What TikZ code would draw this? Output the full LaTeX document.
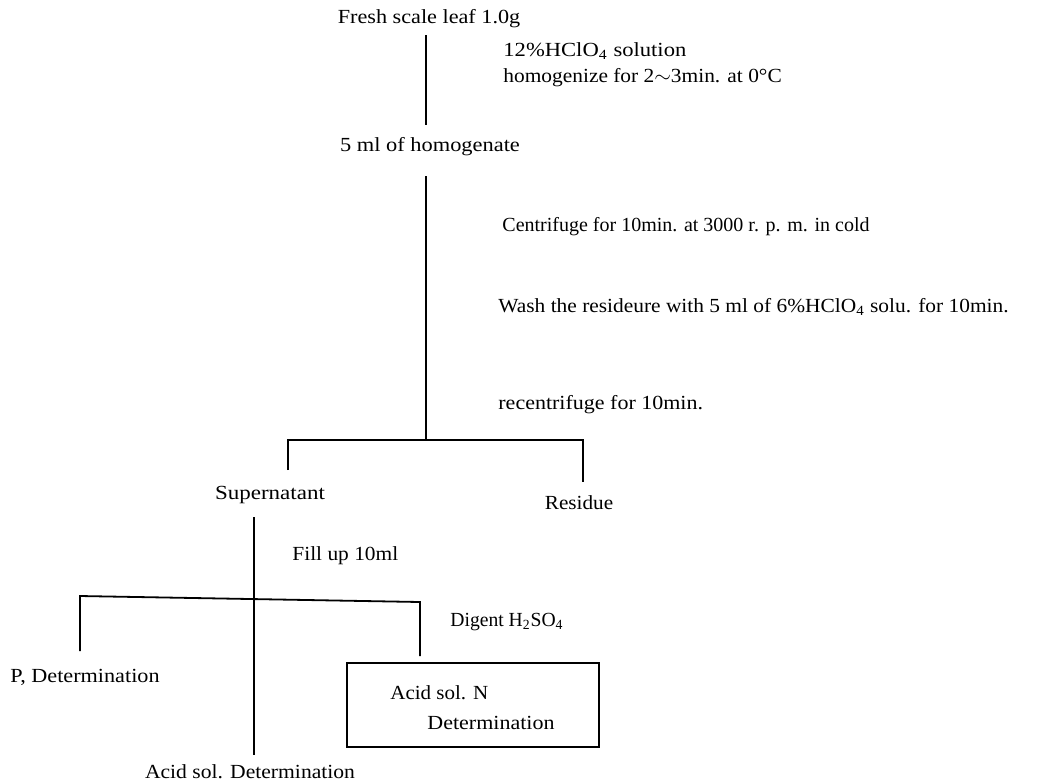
\documentclass[tikz,border=0pt]{standalone}
\usepackage{fontspec}
\usepackage{graphicx}
\setmainfont{Liberation Serif}
\newcommand{\hsc}[2]{\scalebox{#1}[1]{#2}}
\begin{document}
\begin{tikzpicture}[x=0.5pt,y=-0.5pt,
  lbl/.style={inner sep=0pt,font=\fontsize{10}{12}\selectfont},
  lblw/.style={lbl,anchor=west},
  flow/.style={line width=0.9pt}]
\useasboundingbox (0,0) rectangle (1047,782);
% texts
\node[lbl] (fresh) at (429,19) {\hsc{1.11}{Fresh scale leaf 1.0g}};
\node[lblw] (hclo) at (503,51) {\hsc{1.13}{12\%HClO\textsubscript{4} solution}};
\node[lblw] (homog) at (503,78) {\hsc{1.07}{homogenize for 2$\sim$3min. at 0°C}};
\node[lbl] (hom5) at (430,147) {\hsc{1.12}{5 ml of homogenate}};
\node[lblw] (cent) at (502,227) {\hsc{1.0}{Centrifuge for 10min. at 3000 r. p. m. in cold}};
\node[lblw] (wash) at (498,307) {\hsc{1.07}{Wash the resideure with 5 ml of 6\%HClO\textsubscript{4} solu. for 10min.}};
\node[lblw] (recent) at (498,405) {\hsc{1.10}{recentrifuge for 10min.}};
\node[lbl] (super) at (270,495) {\hsc{1.15}{Supernatant}};
\node[lbl] (resid) at (579,503) {\hsc{1.06}{Residue}};
\node[lblw] (fill) at (292,556) {\hsc{1.07}{Fill up 10ml}};
\node[lblw] (digent) at (450,622) {\hsc{0.98}{Digent H\textsubscript{2}SO\textsubscript{4}}};
\node[lblw] (pdet) at (10,677) {\hsc{1.11}{P, Determination}};
\node[draw,flow,minimum width=126pt,minimum height=42pt,inner sep=0pt] (box) at (473,705) {};
\node[lblw] (acidn) at (390,693) {\hsc{1.05}{Acid sol. N}};
\node[lblw] (ndet) at (427,723) {\hsc{1.10}{Determination}};
\node[lbl] (acid) at (250,772) {\hsc{1.08}{Acid sol. Determination}};
% coordinates
\coordinate (a1) at (426,35);
\coordinate (a2) at (426,125);
\coordinate (b1) at (426,176);
\coordinate (b2) at (426,440);
\coordinate (bl) at (288,440);
\coordinate (br) at (583,440);
\coordinate (blb) at (288,470);
\coordinate (brb) at (583,482);
\coordinate (c1) at (254,517);
\coordinate (c2) at (254,755);
\coordinate (dl) at (80,596);
\coordinate (dr) at (420,602);
\coordinate (dlb) at (80,651);
\coordinate (drb) at (420,656);
% connectors
\draw[flow] (a1) -- (a2);
\draw[flow] (b1) -- (b2);
\draw[flow] (blb) -- (bl) -- (br) -- (brb);
\draw[flow] (c1) -- (c2);
\draw[flow] (dlb) -- (dl) -- (dr) -- (drb);
\end{tikzpicture}
\end{document}
